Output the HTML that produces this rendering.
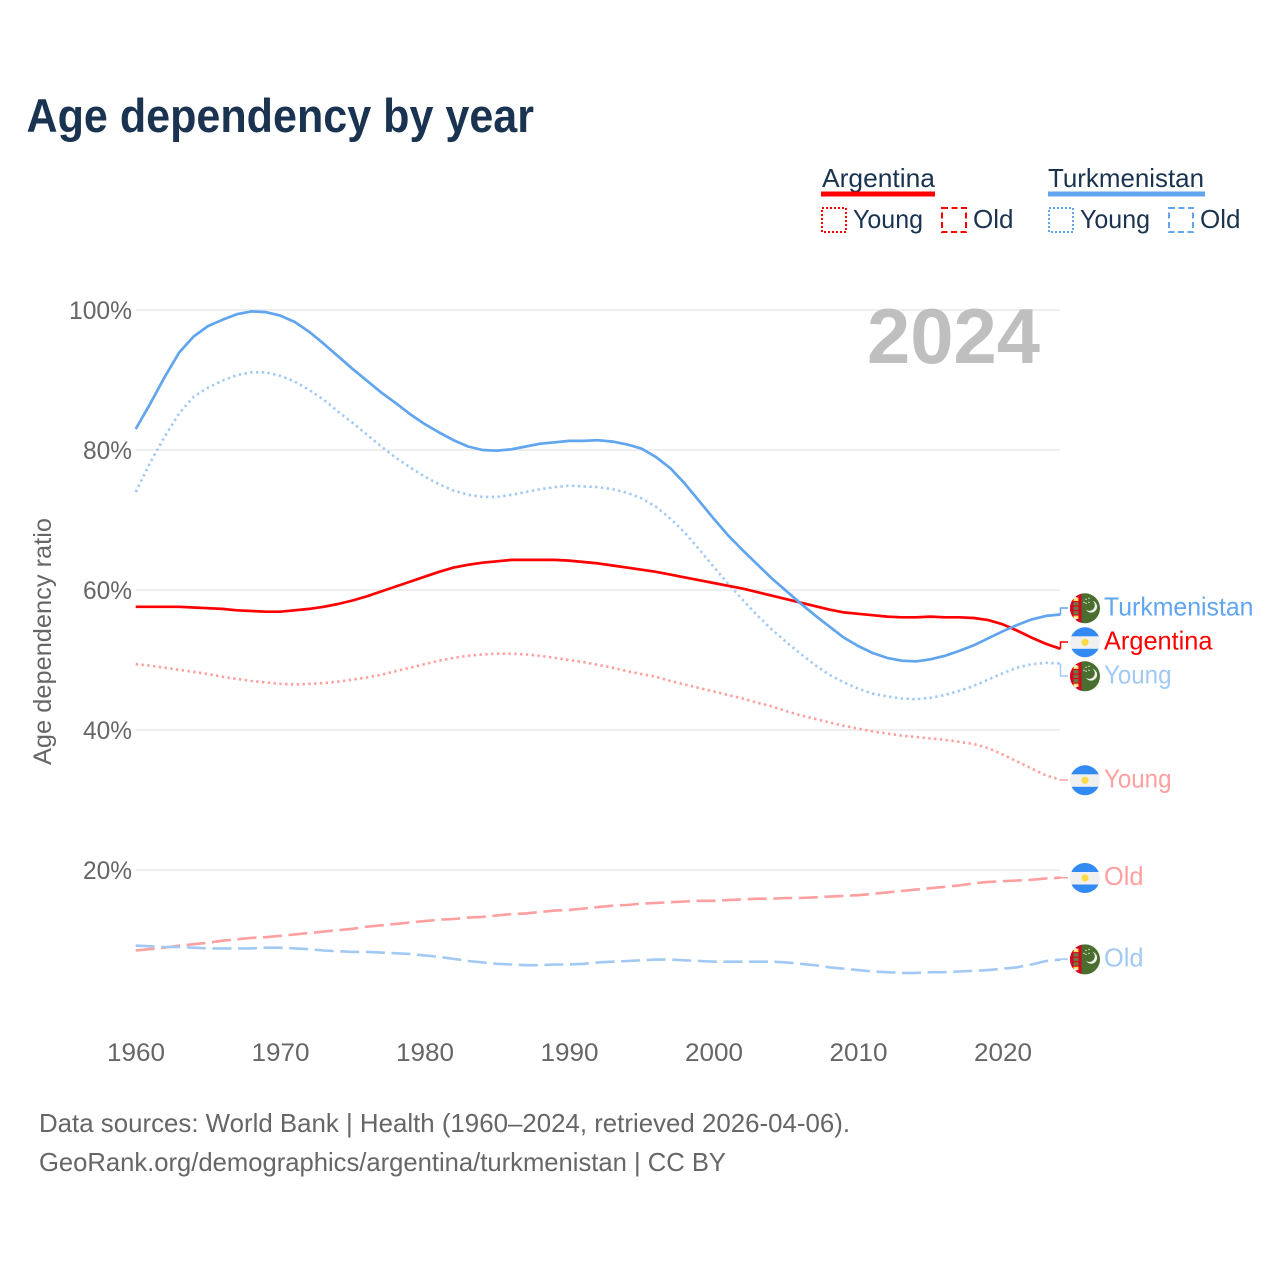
<!DOCTYPE html>
<html lang="en">
<head>
<meta charset="utf-8">
<title>Age dependency by year</title>
<style>
html,body{margin:0;padding:0;background:#fff;}
svg{display:block;font-family:"Liberation Sans",sans-serif;}
.tick{font-size:25px;fill:#666;}
.leg{font-size:26px;fill:#1a3350;}
.foot{font-size:26px;fill:#666;}
</style>
</head>
<body>
<svg id="chart" width="1280" height="1280" viewBox="0 0 1280 1280" xmlns="http://www.w3.org/2000/svg">
  <defs>
    <clipPath id="flag-clip"><circle cx="0" cy="0" r="15"></circle></clipPath>
  </defs>
  <rect x="0" y="0" width="1280" height="1280" fill="#fff"></rect>
  <text x="26.5" y="132" font-size="47" font-weight="700" fill="#1a3350" textLength="507.5" lengthAdjust="spacingAndGlyphs">Age dependency by year</text>

  <g>
    <text class="leg" x="822" y="187" textLength="113" lengthAdjust="spacingAndGlyphs">Argentina</text>
    <rect x="821" y="191.5" width="114" height="5" fill="#ff0000"></rect>
    <rect x="822" y="208" width="24" height="24" fill="none" stroke="#ff0000" stroke-width="2" stroke-dasharray="2 2"></rect>
    <text class="leg" x="853" y="228" textLength="70" lengthAdjust="spacingAndGlyphs">Young</text>
    <rect x="942" y="208" width="24" height="24" fill="none" stroke="#ff0000" stroke-width="2" stroke-dasharray="6 3.5"></rect>
    <text class="leg" x="973" y="228" textLength="40.5" lengthAdjust="spacingAndGlyphs">Old</text>

    <text class="leg" x="1048" y="187" textLength="156" lengthAdjust="spacingAndGlyphs">Turkmenistan</text>
    <rect x="1048" y="191.5" width="157" height="5" fill="#60a5ee"></rect>
    <rect x="1049" y="208" width="24" height="24" fill="none" stroke="#60a5ee" stroke-width="2" stroke-dasharray="2 2"></rect>
    <text class="leg" x="1080" y="228" textLength="70" lengthAdjust="spacingAndGlyphs">Young</text>
    <rect x="1169" y="208" width="24" height="24" fill="none" stroke="#60a5ee" stroke-width="2" stroke-dasharray="6 3.5"></rect>
    <text class="leg" x="1200" y="228" textLength="40.5" lengthAdjust="spacingAndGlyphs">Old</text>
  </g>

  <g id="grid"></g>
  <g id="yticks"></g>
  <g id="xticks"></g>

  <text transform="translate(51,641.5) rotate(-90)" text-anchor="middle" font-size="25" fill="#666" textLength="247" lengthAdjust="spacingAndGlyphs">Age dependency ratio</text>
  <text x="1040" y="363" text-anchor="end" font-size="78" font-weight="700" fill="#bfbfbf" textLength="173" lengthAdjust="spacingAndGlyphs">2024</text>

  <g id="series"></g>
  <g id="endlabels"></g>

  <text class="foot" x="39" y="1132" textLength="811" lengthAdjust="spacingAndGlyphs">Data sources: World Bank | Health (1960–2024, retrieved 2026-04-06).</text>
  <text class="foot" x="39" y="1171" textLength="687" lengthAdjust="spacingAndGlyphs">GeoRank.org/demographics/argentina/turkmenistan | CC BY</text>
</svg>

<script>
const years = [1960,1961,1962,1963,1964,1965,1966,1967,1968,1969,1970,1971,1972,1973,1974,1975,1976,1977,1978,1979,1980,1981,1982,1983,1984,1985,1986,1987,1988,1989,1990,1991,1992,1993,1994,1995,1996,1997,1998,1999,2000,2001,2002,2003,2004,2005,2006,2007,2008,2009,2010,2011,2012,2013,2014,2015,2016,2017,2018,2019,2020,2021,2022,2023,2024];
const turkmenistanTotal = [83.0,86.6,90.4,93.9,96.2,97.7,98.6,99.4,99.8,99.7,99.2,98.3,96.9,95.2,93.4,91.6,89.9,88.2,86.7,85.1,83.7,82.5,81.4,80.5,80.0,79.9,80.1,80.5,80.9,81.1,81.3,81.3,81.4,81.2,80.8,80.2,79.0,77.4,75.2,72.7,70.2,67.8,65.7,63.7,61.7,59.9,58.1,56.4,54.8,53.2,52.0,51.0,50.3,49.9,49.8,50.1,50.6,51.3,52.1,53.1,54.1,55.0,55.8,56.3,56.5];
const turkmenistanYoung = [74.0,78.2,81.9,85.2,87.6,88.9,89.9,90.7,91.1,91.1,90.6,89.8,88.6,87.2,85.5,83.9,82.2,80.5,78.9,77.5,76.2,75.1,74.2,73.6,73.3,73.3,73.6,74.0,74.4,74.7,74.9,74.8,74.7,74.4,73.9,73.1,71.9,70.2,68.2,65.8,63.3,60.9,58.6,56.4,54.4,52.6,50.9,49.3,47.9,46.8,45.9,45.2,44.8,44.5,44.4,44.6,45.0,45.6,46.3,47.2,48.1,48.9,49.4,49.6,49.5];
const turkmenistanOld = [9.2,9.1,9.0,9.0,8.9,8.8,8.8,8.8,8.8,8.9,8.9,8.8,8.7,8.5,8.4,8.3,8.3,8.2,8.1,8.0,7.8,7.6,7.3,7.0,6.8,6.6,6.5,6.4,6.4,6.5,6.5,6.6,6.8,6.9,7.0,7.1,7.2,7.2,7.1,7.0,6.9,6.9,6.9,6.9,6.9,6.8,6.6,6.4,6.1,5.9,5.7,5.5,5.4,5.3,5.3,5.4,5.4,5.5,5.6,5.7,5.9,6.1,6.5,7.0,7.2];
const argentinaTotal = [57.6,57.6,57.6,57.6,57.5,57.4,57.3,57.1,57.0,56.9,56.9,57.1,57.3,57.6,58.0,58.5,59.1,59.8,60.5,61.2,61.9,62.6,63.2,63.6,63.9,64.1,64.3,64.3,64.3,64.3,64.2,64.0,63.8,63.5,63.2,62.9,62.6,62.2,61.8,61.4,61.0,60.6,60.2,59.7,59.2,58.7,58.2,57.7,57.2,56.8,56.6,56.4,56.2,56.1,56.1,56.2,56.1,56.1,56.0,55.7,55.1,54.2,53.2,52.3,51.6];
const argentinaYoung = [49.4,49.2,48.9,48.6,48.3,48.0,47.6,47.3,47.0,46.8,46.6,46.5,46.6,46.7,46.9,47.2,47.5,47.9,48.4,48.9,49.4,49.9,50.3,50.6,50.8,50.9,50.9,50.8,50.6,50.3,50.0,49.7,49.3,48.9,48.4,48.0,47.6,47.0,46.5,46.0,45.5,45.0,44.5,43.9,43.4,42.7,42.1,41.6,41.1,40.6,40.2,39.8,39.5,39.2,39.0,38.8,38.6,38.3,38.0,37.4,36.5,35.5,34.5,33.5,32.9];
const argentinaOld = [8.5,8.7,8.9,9.2,9.4,9.6,9.9,10.1,10.3,10.4,10.6,10.8,11.0,11.2,11.4,11.6,11.9,12.1,12.3,12.5,12.7,12.9,13.0,13.2,13.3,13.5,13.7,13.8,14.0,14.2,14.3,14.5,14.7,14.9,15.0,15.2,15.3,15.4,15.5,15.6,15.6,15.7,15.8,15.9,15.9,16.0,16.0,16.1,16.2,16.3,16.4,16.6,16.8,17.0,17.2,17.4,17.6,17.8,18.1,18.3,18.4,18.5,18.6,18.8,18.9];
const yTickValues = [20,40,60,80,100];
const xTickValues = [1960,1970,1980,1990,2000,2010,2020];

const NS = 'http://www.w3.org/2000/svg';
const xScale = function (year) { return 135.7 + (year - 1960) * 14.45; };
const yScale = function (value) { return 1010 - value * 7; };

function make(tag, parent, attrs, text) {
  const el = document.createElementNS(NS, tag);
  Object.keys(attrs).forEach(function (k) { el.setAttribute(k, attrs[k]); });
  if (text !== undefined) el.textContent = text;
  parent.appendChild(el);
  return el;
}

const grid = document.getElementById('grid');
const yticks = document.getElementById('yticks');
const xticks = document.getElementById('xticks');

yTickValues.forEach(function (v) {
  const line = make('line', grid, {x1: 136, x2: 1060, y1: yScale(v), y2: yScale(v), stroke: '#e9e9e9', 'stroke-width': 1.5});
  
  
  const label = make('text', yticks, {x: 132, y: yScale(v) + 9, 'text-anchor': 'end', 'class': 'tick', textLength: v === 100 ? 63 : 49, lengthAdjust: 'spacingAndGlyphs'}, v + '%');
  
  
});

xTickValues.forEach(function (yr) {
  const label = make('text', xticks, {x: xScale(yr) + 0.3, y: 1061, 'text-anchor': 'middle', 'class': 'tick', textLength: 58, lengthAdjust: 'spacingAndGlyphs'}, String(yr));
  
  
});

const RED = '#ff0000', BLUE = '#60a5ee', LRED = '#ff9f9f', LBLUE = '#a1c9f4';
const DOT = '2.4 3.4', DASH = '19 6.6';
const seriesConfig = [
  {key: 'argentina-old', values: argentinaOld, color: LRED, width: 2.6, dash: DASH, label: 'Old', country: 'ar', offset: 0, w: 39},
  {key: 'turkmenistan-old', values: turkmenistanOld, color: LBLUE, width: 2.6, dash: DASH, label: 'Old', country: 'tm', offset: -0.5, w: 39},
  {key: 'argentina-young', values: argentinaYoung, color: LRED, width: 2.6, dash: DOT, label: 'Young', country: 'ar', offset: 0.3, w: 67},
  {key: 'turkmenistan-young', values: turkmenistanYoung, color: LBLUE, width: 2.6, dash: DOT, label: 'Young', country: 'tm', offset: 12.5, w: 67},
  {key: 'argentina-total', values: argentinaTotal, color: RED, width: 2.7, dash: null, label: 'Argentina', country: 'ar', offset: -6.8, w: 108},
  {key: 'turkmenistan-total', values: turkmenistanTotal, color: BLUE, width: 2.7, dash: null, label: 'Turkmenistan', country: 'tm', offset: -6.5, w: 149}
];

function drawFlag(parent, country, cy) {
  const g = make('g', parent, {transform: 'translate(1085,' + (cy + 0.3) + ')', 'clip-path': 'url(#flag-clip)'});
  if (country === 'ar') {
    
    
    make('rect', g, {x: -16, y: -16, width: 32, height: 32, fill: '#f0f0f0'});
    make('rect', g, {x: -16, y: -16, width: 32, height: 10, fill: '#338af3'});
    make('rect', g, {x: -16, y: 6.5, width: 32, height: 10, fill: '#338af3'});
    make('circle', g, {cx: 0, cy: 0, r: 3.6, fill: '#ffda44'});
  } else {
    
    
    make('rect', g, {x: -16, y: -16, width: 32, height: 32, fill: '#496e2d'});
    make('rect', g, {x: -16, y: -16, width: 12.5, height: 32, fill: '#d80027'});
    [-9, -4.5, 0, 4.5, 9].forEach(function (dy, i) {
      make('rect', g, {x: -11.5, y: dy - 1.7, width: 5, height: 3.4, fill: (i === 0 || i === 4) ? '#ffda44' : '#6d7a3a'});
    });
    make('circle', g, {cx: -9.5, cy: -10, r: 1.4, fill: '#f0f0f0'});
    make('circle', g, {cx: -9.5, cy: 10, r: 1.4, fill: '#f0f0f0'});
    make('path', g, {d: 'M7.5,-7.5 A6,6 0 1 1 1,1.5 A5.4,5.4 0 0 0 7.5,-7.5 Z', fill: '#f0f0f0'});
    [[1,-9],[4,-10],[-1,-6],[1,-5],[4,-6]].forEach(function (p) {
      make('circle', g, {cx: p[0], cy: p[1], r: 0.7, fill: '#f0f0f0'});
    });
  }
}

const seriesGroup = document.getElementById('series');
const endGroup = document.getElementById('endlabels');

seriesConfig.forEach(function (s) {
  const pts = s.values.map(function (v, i) { return xScale(years[i]).toFixed(2) + ',' + yScale(v).toFixed(2); }).join(' ');
  const line = make('polyline', seriesGroup, {points: pts, fill: 'none', stroke: s.color, 'stroke-width': s.width, 'stroke-linejoin': 'round'});
  if (s.dash) line.setAttribute('stroke-dasharray', s.dash);
  
  

  const last = s.values[s.values.length - 1];
  const endX = xScale(years[years.length - 1]);
  const endY = yScale(last);
  const labelY = endY + s.offset;
  const conn = make('polyline', endGroup, {points: endX + ',' + endY + ' ' + endX + ',' + labelY + ' 1068,' + labelY, fill: 'none', stroke: s.color, 'stroke-width': 1.5});
  
  

  drawFlag(endGroup, s.country, labelY);

  const label = make('text', endGroup, {x: 1104, y: labelY + 7.5, 'font-size': 26, fill: s.color, textLength: s.w + 0.5, lengthAdjust: 'spacingAndGlyphs'}, s.label);
  
  
});
</script>
</body>
</html>
